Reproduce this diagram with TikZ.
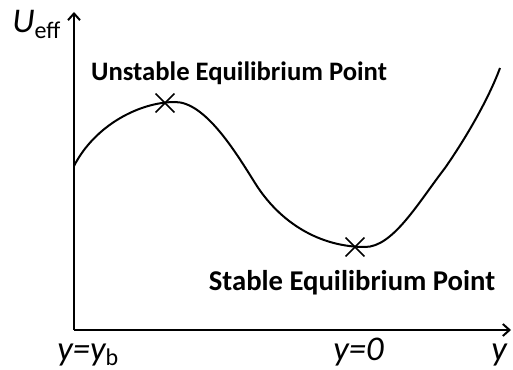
\documentclass[tikz,border=0pt]{standalone}
\usepackage{fontspec}
\setmainfont{Carlito}
\usetikzlibrary{arrows.meta,shapes.misc}
\tikzset{
  axis/.style={line width=1.5pt,-{Straight Barb[length=5pt,width=9pt]}},
  eqpoint/.style={cross out,draw,line width=1.1pt,minimum size=13pt,inner sep=0pt},
  eqlabel/.style={font=\bfseries\fontsize{20}{24}\selectfont},
  axlabel/.style={font=\fontsize{26}{30}\selectfont\itshape,inner sep=0pt}
}
\newcommand{\lowsub}[1]{\raisebox{-4pt}{\upshape\fontsize{18}{20}\selectfont #1}}

\begin{document}
\begin{tikzpicture}[x=0.75pt,y=-0.75pt]
    \useasboundingbox (0,0) rectangle (513,370);
    \coordinate (origin) at (74,330);
    \coordinate (ytip) at (74,12);
    \coordinate (xtip) at (511,330);
    \draw[axis] (origin) -- (ytip);
    \draw[axis] (origin) -- (xtip);
    % effective potential
    \draw[line width=1.5pt] (74,166) .. controls (95,125) and (140,102) .. (175,102)
      .. controls (205,102) and (235,151) .. (255,183)
      .. controls (280,223) and (320,247) .. (365,247)
      .. controls (393,247) and (418,203) .. (445,168)
      .. controls (470,132) and (490,95) .. (500,68);
    \node[eqpoint] (unstable) at (165,103) {};
    \node[eqpoint] (stable) at (355,247) {};
    \node[eqlabel] (unstablelbl) at (239,73) {Unstable Equilibrium Point};
    \node[eqlabel,font=\bfseries\fontsize{21.5}{25}\selectfont] (stablelbl) at (352,283) {Stable Equilibrium Point};
    \node[axlabel,anchor=base west] (ueff) at (12,33) {U\lowsub{eff}};
    \node[axlabel,anchor=base west] (yb) at (57,360) {y=y\lowsub{b}};
    \node[axlabel,anchor=base west] (yzero) at (333,360) {y=0};
    \node[axlabel,anchor=base west] (ylbl) at (491,360) {y};
  \end{tikzpicture}
\end{document}
